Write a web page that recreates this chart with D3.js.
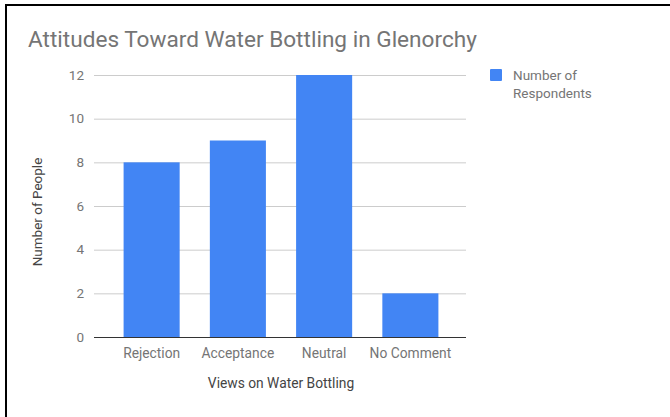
<!DOCTYPE html>
<html>
<head>
<meta charset="utf-8">
<script src="https://cdn.jsdelivr.net/npm/d3@7"></script>
<style>
  html, body { margin: 0; padding: 0; background: #fff; }
  svg { display: block; font-family: Roboto, "Noto Sans", Arial, sans-serif; }
</style>
</head>
<body>
<svg id="chart" width="670" height="417"></svg>
<script>
// Survey results
const categories = ["Rejection", "Acceptance", "Neutral", "No Comment"];
const respondents = [8, 9, 12, 2];
const yTicks = [0, 2, 4, 6, 8, 10, 12];
const seriesName = "Number of Respondents";

const svg = d3.select("#chart");
const W = 670, H = 417;

// Frame: top and left rules
svg.append("rect").attr("x", 5).attr("y", 4).attr("width", W - 5).attr("height", 2).attr("fill", "#000");
svg.append("rect").attr("x", 5).attr("y", 4).attr("width", 2).attr("height", H - 4).attr("fill", "#000");

const plot = { left: 94, right: 466, top: 75, bottom: 337 };

const x = d3.scaleBand()
  .domain(categories)
  .range([108.5, 453.5])
  .paddingInner(0.35)
  .paddingOuter(0.175);

const y = d3.scaleLinear()
  .domain([0, 12])
  .range([plot.bottom, plot.top]);

// Title
svg.append("text")
  .attr("x", 28).attr("y", 47)
  .attr("font-size", 22.6)
  .attr("fill", "#757575")
  .text("Attitudes Toward Water Bottling in Glenorchy");

// Gridlines and y tick labels
const yAxis = d3.axisLeft(y).tickValues(yTicks).tickSize(-(plot.right - plot.left)).tickPadding(10);
const gy = svg.append("g").attr("transform", `translate(${plot.left},0)`).call(yAxis);
gy.select(".domain").remove();
gy.selectAll(".tick line").attr("stroke", "#cccccc").attr("stroke-width", 1);
gy.selectAll(".tick text").attr("font-size", 13.5).attr("fill", "#757575").attr("font-family", "Roboto, sans-serif");

// Bars
svg.append("g").selectAll("rect")
  .data(categories.map((c, i) => ({ c, v: respondents[i] })))
  .join("rect")
  .attr("x", d => x(d.c))
  .attr("width", x.bandwidth())
  .attr("y", d => y(d.v))
  .attr("height", d => y(0) - y(d.v))
  .attr("fill", "#4285f4");

// Baseline
svg.append("line")
  .attr("x1", plot.left).attr("x2", plot.right)
  .attr("y1", y(0) + 0.5).attr("y2", y(0) + 0.5)
  .attr("stroke", "#333333").attr("stroke-width", 1);

// Category labels
const xAxis = d3.axisBottom(x).tickSize(0).tickPadding(11);
const gx = svg.append("g").attr("transform", `translate(0,${plot.bottom})`).call(xAxis);
gx.select(".domain").remove();
gx.selectAll(".tick text").attr("font-size", 13.8).attr("fill", "#757575").attr("font-family", "Roboto, sans-serif");

// Axis titles
svg.append("text")
  .attr("x", 281).attr("y", 388)
  .attr("text-anchor", "middle")
  .attr("font-size", 13.8).attr("fill", "#444444")
  .text("Views on Water Bottling");

svg.append("text")
  .attr("transform", "translate(42,212) rotate(-90)")
  .attr("text-anchor", "middle")
  .attr("font-size", 13.5).attr("fill", "#444444")
  .text("Number of People");

// Legend
const legend = svg.append("g").attr("transform", "translate(490,69)");
legend.append("rect").attr("width", 12).attr("height", 12).attr("rx", 1).attr("fill", "#4285f4");
const words = seriesName.split(" ");
const lines = [words.slice(0, 2).join(" "), words.slice(2).join(" ")];
legend.selectAll("text.leg")
  .data(lines)
  .join("text")
  .attr("class", "leg")
  .attr("x", 23)
  .attr("y", (d, i) => 11 + i * 17.5)
  .attr("font-size", 13.5).attr("fill", "#757575")
  .text(d => d);
</script>
</body>
</html>
